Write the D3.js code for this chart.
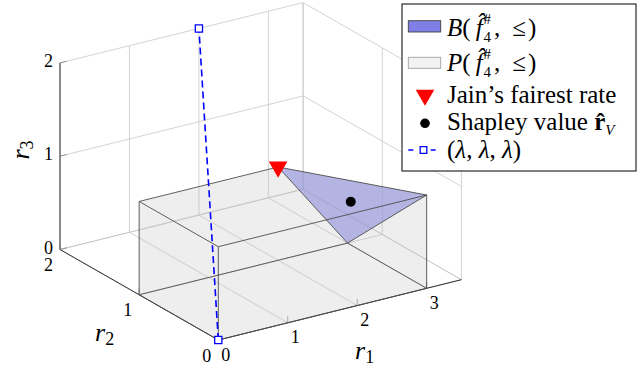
<!DOCTYPE html>
<html><head><meta charset="utf-8">
<script src="https://cdn.jsdelivr.net/npm/d3@7"></script>
<style>
html,body{margin:0;padding:0;background:#fff;}
svg{display:block;}
svg text{font-family:'Liberation Serif','Times New Roman','DejaVu Serif',serif;}
</style>
</head><body>
<svg id="c" width="644" height="369"></svg>
<script>
// ---------------- data ----------------
const xTicks = [0, 1, 2, 3];
const yTicks = [0, 1, 2];
const zTicks = [0, 1, 2];
const xDomain = [0, 3.5];
const yDomain = [0, 2];
const zDomain = [0, 2];
// polytope P(f,<=) vertices and faces
const pVertices = [[0,0,0],[3,0,0],[3,1,0],[0,1,0],[0,0,1],[3,0,1],[2,1,1],[0,1,1]];
const pFaces = [[0,1,2,3],[4,5,6,7],[0,1,5,4],[3,2,6,7],[0,3,7,4],[1,2,5],[6,5,2]];
// base polytope B(f,<=)
const bVertices = [[2,1,1],[3,0,1],[3,1,0]];
const jainRate = [[2,1,1]];
const shapleyValue = [[8/3, 2/3, 2/3]];
const lambdaPoints = [[0,0,0],[2,2,2]];
const legendTexts = ["B", "P", "Jain\u2019s fairest rate", "Shapley value\u00a0", "\u03bb"];

const FONT = "'Liberation Serif','Times New Roman','DejaVu Serif',serif";

// ---------------- projection via d3 scales ----------------
const svg = d3.select("#c");
const origin = [218.3, 340];
const X = d3.scaleLinear().domain(xDomain).range([[0,0],[243.1,-60.3]]);
const Y = d3.scaleLinear().domain(yDomain).range([[0,0],[-158.3,-90.5]]);
const Z = d3.scaleLinear().domain(zDomain).range([[0,0],[0,-186.6]]);
function proj(p){
  const a = X(p[0]), b = Y(p[1]), c = Z(p[2]);
  return [origin[0]+a[0]+b[0]+c[0], origin[1]+a[1]+b[1]+c[1]];
}
const line = d3.line();
function seg(g, p, q, stroke, w){
  return g.append("path").attr("d", line([proj(p), proj(q)]))
    .attr("stroke", stroke).attr("stroke-width", w).attr("fill","none");
}
function txt(g){
  return g.append("text").style("font-family", FONT).attr("fill","#000");
}

// ---------------- grid on back planes ----------------
const gGrid = svg.append("g");
const gridCol = "#c8c8c8", gridW = 0.8;
const xs = xTicks.concat([xDomain[1]]);
const [x0,x1] = xDomain, [y0,y1] = yDomain, [z0,z1] = zDomain;
xs.forEach(x => seg(gGrid,[x,y0,z0],[x,y1,z0],gridCol,gridW));
yTicks.forEach(y => seg(gGrid,[x0,y,z0],[x1,y,z0],gridCol,gridW));
xs.forEach(x => seg(gGrid,[x,y1,z0],[x,y1,z1],gridCol,gridW));
zTicks.forEach(z => seg(gGrid,[x0,y1,z],[x1,y1,z],gridCol,gridW));
yTicks.forEach(y => seg(gGrid,[x1,y,z0],[x1,y,z1],gridCol,gridW));
zTicks.forEach(z => seg(gGrid,[x1,y0,z],[x1,y1,z],gridCol,gridW));

// ---------------- axes ----------------
const gAx = svg.append("g");
seg(gAx,[x0,y0,z0],[x1,y0,z0],"#1a1a1a",0.9);
seg(gAx,[x0,y0,z0],[x0,y1,z0],"#1a1a1a",0.9);
seg(gAx,[x0,y1,z0],[x0,y1,z1],"#1a1a1a",0.9);
xTicks.forEach(x => seg(gAx,[x,y0,z0],[x,y0,0.07],"#777",0.7));
yTicks.forEach(y => seg(gAx,[x0,y,z0],[x0,y,0.07],"#777",0.7));
zTicks.forEach(z => seg(gAx,[x0,y1,z],[0.1,y1,z],"#777",0.7));

const tickFs = 18;
xTicks.forEach(x => { const p = proj([x,y0,z0]);
  txt(gAx).attr("x",p[0]+7.5).attr("y",p[1]+14.5).attr("text-anchor","middle")
    .attr("dominant-baseline","central").attr("font-size",tickFs).text(x); });
yTicks.forEach(y => { const p = proj([x0,y,z0]);
  txt(gAx).attr("x",p[0]-11.5).attr("y",p[1]+15.5).attr("text-anchor","middle")
    .attr("dominant-baseline","central").attr("font-size",tickFs).text(y); });
zTicks.forEach(z => { const p = proj([x0,y1,z]);
  txt(gAx).attr("x",p[0]-11.5).attr("y",p[1]-2).attr("text-anchor","middle")
    .attr("dominant-baseline","central").attr("font-size",tickFs).text(z); });

// ---------------- rich text helper ----------------
function rich(g, pieces, x, y, baseSize){
  let cx = x, prevStart = x;
  pieces.forEach(p => {
    const fs = p.size || baseSize;
    const sx = p.stack ? prevStart : cx + (p.dx||0);
    const t = txt(g).attr("x", sx).attr("y", y + (p.dy||0))
      .attr("font-size", fs)
      .attr("font-style", p.it ? "italic" : "normal")
      .attr("font-weight", p.b ? "bold" : "normal")
      .text(p.t);
    const w = t.node().getComputedTextLength();
    cx = p.stack ? Math.max(cx, sx + w) : sx + w;
    prevStart = sx;
  });
  return cx - x;
}

// axis labels
const labFs = 26, labSub = 18;
rich(svg.append("g"), [{t:"r",it:true},{t:"1",size:labSub,dy:4}], 355, 359, labFs);
rich(svg.append("g"), [{t:"r",it:true},{t:"2",size:labSub,dy:4}], 95, 341, labFs);
{
  const g = svg.append("g");
  const w = rich(g, [{t:"r",it:true},{t:"3",size:labSub,dy:4}], 0, 0, labFs);
  g.attr("transform", `translate(29,150) rotate(-90) translate(${-w/2},0)`);
}

// ---------------- polytopes ----------------
const gPoly = svg.append("g");
gPoly.append("path").attr("d", line(bVertices.map(proj)) + "Z")
  .attr("fill", "#7f7fe6").attr("fill-opacity", 0.6).attr("stroke","none");
pFaces.forEach(f => {
  gPoly.append("path").attr("d", line(f.map(i => proj(pVertices[i]))) + "Z")
    .attr("fill", "#bdbdbd").attr("fill-opacity", 0.14).attr("stroke","none");
});
const edgeSet = new Map();
pFaces.forEach(f => f.forEach((a, k) => {
  const b = f[(k+1) % f.length];
  const key = Math.min(a,b) + "-" + Math.max(a,b);
  if (!edgeSet.has(key)) edgeSet.set(key, [a,b]);
}));
edgeSet.forEach(([a,b]) => seg(gPoly, pVertices[a], pVertices[b], "#4d4d4d", 0.9));

// ---------------- markers ----------------
const gM = svg.append("g");
gM.append("path").attr("d", line(lambdaPoints.map(proj)))
  .attr("stroke","#0000ff").attr("stroke-width",1.6).attr("fill","none")
  .attr("stroke-dasharray","7,4");
lambdaPoints.forEach(p => { const q = proj(p);
  gM.append("path").attr("d", d3.symbol(d3.symbolSquare, 52)())
    .attr("transform",`translate(${q[0]},${q[1]})`)
    .attr("fill","#fff").attr("stroke","#0000ff").attr("stroke-width",1.3); });
jainRate.forEach(p => { const q = proj(p);
  gM.append("path").attr("d", d3.symbol(d3.symbolTriangle, 150)())
    .attr("transform",`translate(${q[0]},${q[1]}) rotate(180)`).attr("fill","#ff0000"); });
shapleyValue.forEach(p => { const q = proj(p);
  gM.append("path").attr("d", d3.symbol(d3.symbolCircle, 78)())
    .attr("transform",`translate(${q[0]},${q[1]})`).attr("fill","#000"); });

// ---------------- legend ----------------
const gL = svg.append("g");
gL.append("rect").attr("x",402).attr("y",4).attr("width",234).attr("height",167)
  .attr("fill","#fff").attr("stroke","#000").attr("stroke-width",1);
const lfs = 25, lsub = 15, tx = 447;
const rowBase = [36, 71, 103, 130, 158];
const fPieces = [{t:"(\u2009"},{t:"f\u0302",it:true},
  {t:"4",size:lsub,dy:6,dx:1},{t:"#",size:lsub,dy:-12,stack:true},{t:",",dx:3},{t:"\u2264",dx:12},{t:")",dx:2}];
gL.append("rect").attr("x",408.3).attr("y",20.7).attr("width",32.4).attr("height",11.3)
  .attr("fill","#7f7fe6").attr("stroke","#404040").attr("stroke-width",0.9);
rich(gL, [{t:legendTexts[0],it:true}].concat(fPieces), tx, rowBase[0], lfs);
gL.append("rect").attr("x",408.3).attr("y",57.3).attr("width",32.4).attr("height",11)
  .attr("fill","#f2f2f2").attr("stroke","#a0a0a0").attr("stroke-width",0.9);
rich(gL, [{t:legendTexts[1],it:true}].concat(fPieces), tx, rowBase[1], lfs);
gL.append("path").attr("d", d3.symbol(d3.symbolTriangle, 150)())
  .attr("transform","translate(425,95) rotate(180)").attr("fill","#ff0000");
rich(gL, [{t:legendTexts[2]}], tx, rowBase[2], lfs);
gL.append("path").attr("d", d3.symbol(d3.symbolCircle, 72)())
  .attr("transform","translate(425,123.3)").attr("fill","#000");
rich(gL, [{t:legendTexts[3]},{t:"r\u0302",b:true},{t:"V",it:true,size:lsub,dy:5}],
  tx, rowBase[3], lfs);
gL.append("line").attr("x1",408.3).attr("x2",435.7).attr("y1",150).attr("y2",150)
  .attr("stroke","#0000ff").attr("stroke-width",1.6).attr("stroke-dasharray","5,17.4,5");
gL.append("path").attr("d", d3.symbol(d3.symbolSquare, 44)())
  .attr("transform","translate(423.5,150)").attr("fill","#fff").attr("stroke","#0000ff").attr("stroke-width",1.3);
const L = legendTexts[4];
rich(gL, [{t:"("},{t:L,it:true},{t:",\u00a0"},{t:L,it:true},{t:",\u00a0"},{t:L,it:true},{t:")"}], tx, rowBase[4], lfs);
</script>
</body></html>
